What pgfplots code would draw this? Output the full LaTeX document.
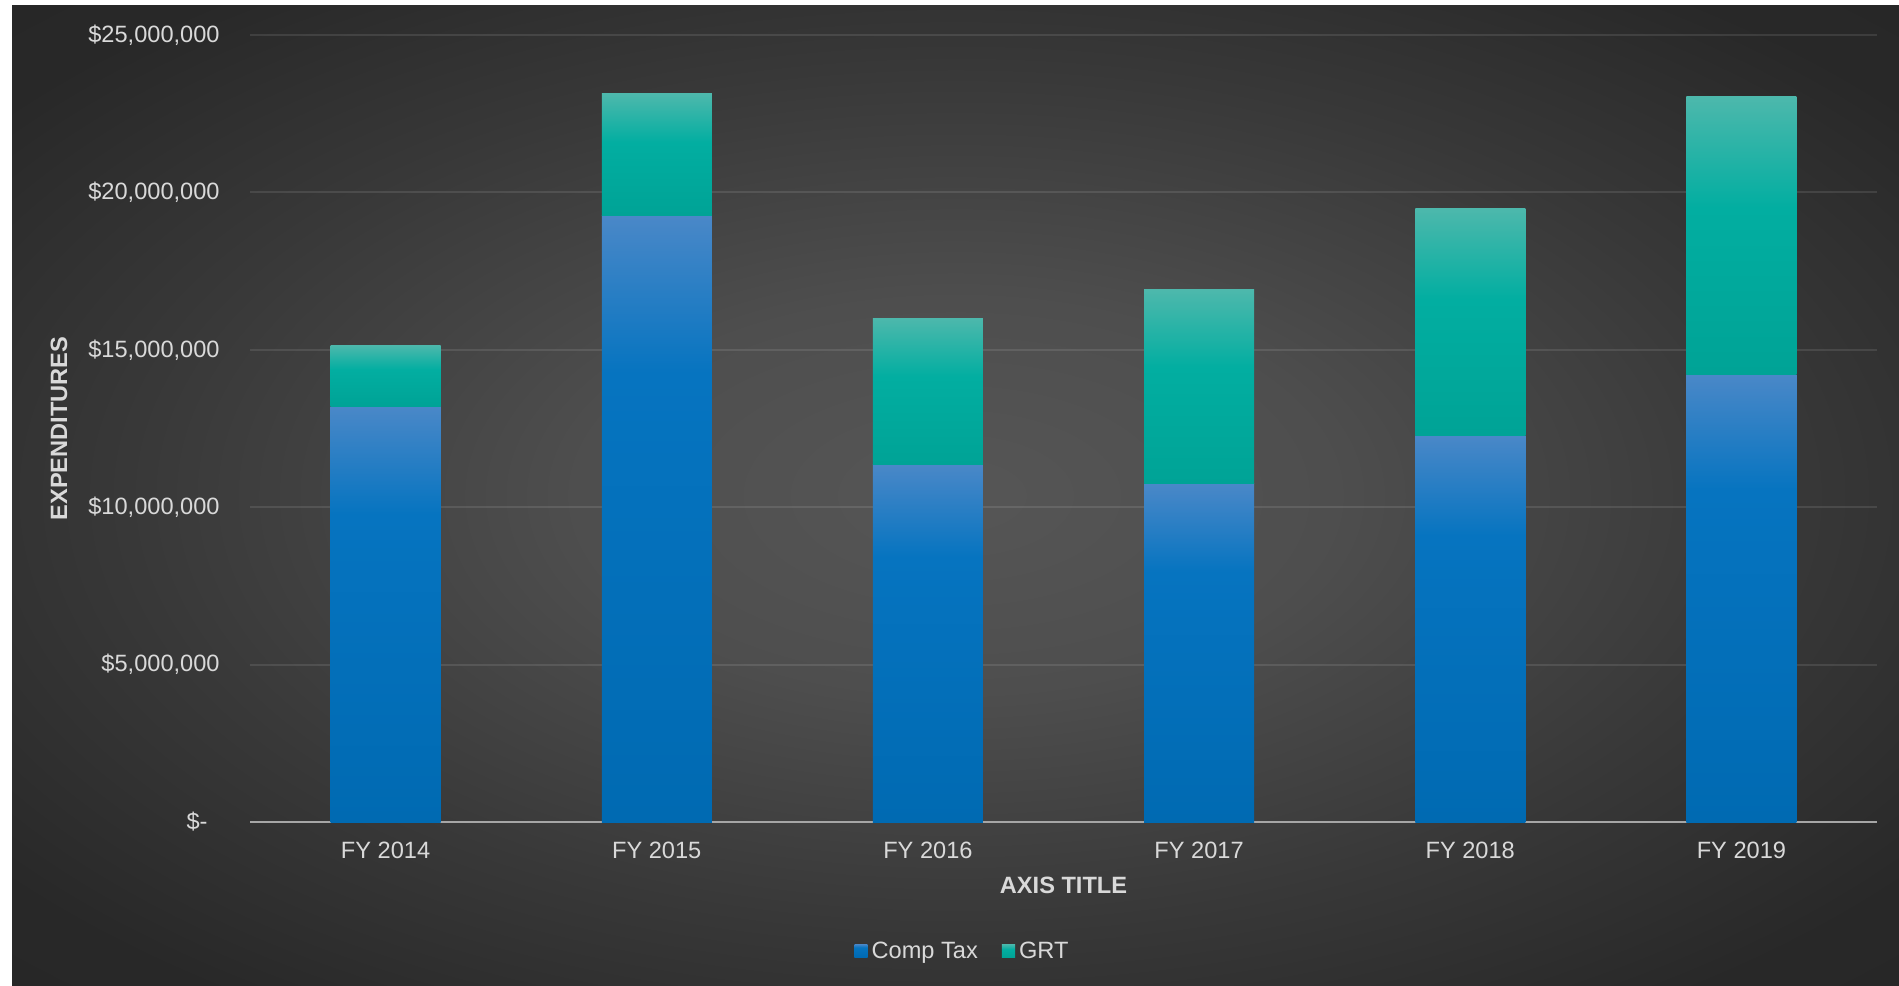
\documentclass[border=0pt]{standalone}
\usepackage{pgfplots}
\pgfplotsset{compat=1.18}
\usepackage{fontspec}
\setmainfont{Liberation Sans}
\definecolor{txt}{HTML}{D9D9D9}
\definecolor{ctTop}{HTML}{4A88C8}
\definecolor{ctMid}{HTML}{0674C0}
\definecolor{ctBot}{HTML}{006AB2}
\definecolor{grTop}{HTML}{4DB8AC}
\definecolor{grMid}{HTML}{02AEA1}
\definecolor{grBot}{HTML}{00A396}
\pgfdeclareverticalshading{ctshade}{100bp}{color(0bp)=(ctBot); color(25bp)=(ctBot); color(62bp)=(ctMid); color(75bp)=(ctTop); color(100bp)=(ctTop)}
\pgfdeclareverticalshading{grshade}{100bp}{color(0bp)=(grBot); color(25bp)=(grBot); color(55bp)=(grMid); color(75bp)=(grTop); color(100bp)=(grTop)}
\pgfdeclareradialshading{bgshade}{\pgfpoint{0bp}{0bp}}{color(0bp)=(rgb,255:red,86;green,86;blue,86); color(10bp)=(rgb,255:red,78;green,78;blue,78); color(22bp)=(rgb,255:red,56;green,56;blue,56); color(32bp)=(rgb,255:red,40;green,40;blue,40); color(50bp)=(rgb,255:red,36;green,36;blue,36)}
\newcommand{\lfont}{\fontsize{11.8pt}{14pt}\selectfont}
\pgfplotsset{
  sqlegend/.style={legend image code/.code={\fill[##1] (0pt,-2.6pt) rectangle (6.6pt,4pt);}},
  comp/.style={ybar, bar width=55pt, bar shift=0pt, draw=none, shading=ctshade, sqlegend},
  grt/.style={sharp plot, mark=none, draw=none, shading=grshade, sqlegend},
}
\begin{document}
\begin{tikzpicture}
\fill[white] (0,0) rectangle (949.5pt,492.5pt);
\shade[shading=bgshade] (6pt,0) rectangle (949.5pt,489.5pt);
\begin{axis}[
  at={(125pt,81.5pt)}, anchor=south west,
  scale only axis, width=813.5pt, height=393.5pt,
  xmin=-0.5, xmax=5.5, ymin=0, ymax=25000000,
  xtick={0,1,2,3,4,5},
  xticklabels={FY 2014,FY 2015,FY 2016,FY 2017,FY 2018,FY 2019},
  ytick={0,5000000,10000000,15000000,20000000,25000000},
  yticklabels={\$-\hspace*{6pt},{\$5,000,000},{\$10,000,000},{\$15,000,000},{\$20,000,000},{\$25,000,000}},
  scaled y ticks=false,
  major tick length=0pt,
  axis lines*=left,
  y axis line style={draw=none},
  x axis line style={draw=white!65!black, line width=1pt},
  ymajorgrids,
  grid style={draw=white, opacity=0.1, line width=1pt},
  xticklabel style={anchor=north, inner sep=0pt, yshift=-10pt, text=txt, font=\lfont},
  yticklabel style={anchor=east, inner sep=0pt, xshift=-15pt, text=txt, font=\lfont},
  xlabel={AXIS TITLE},
  ylabel={EXPENDITURES},
  xlabel style={at={(axis description cs:0.5,-0.080)}, anchor=center, text=txt, font=\lfont\bfseries},
  ylabel style={at={(axis description cs:-0.1174,0.5)}, anchor=center, rotate=0, text=txt, font=\lfont\bfseries},
  legend entries={Comp Tax,GRT},
  legend style={draw=none, fill=none, text=txt, font=\lfont,
    at={(axis description cs:0.4385,-0.1652)}, anchor=center,
    legend columns=2,
    /tikz/every even column/.append style={column sep=10pt}},
  legend cell align=left,
]
% Each fiscal year: Comp Tax bar (0 to Comp Tax), GRT segment (Comp Tax to Comp Tax + GRT).
% Bar half width 0.20283 x units = 27.5pt.
% FY 2014: Comp Tax 13,210,000; GRT 1,940,000
\addplot[comp] coordinates {(0,13210000)};
\addplot[grt] coordinates {(-0.20283,13210000) (0.20283,13210000) (0.20283,15150000) (-0.20283,15150000)} -- cycle;
% FY 2015: Comp Tax 19,280,000; GRT 3,850,000
\addplot[comp] coordinates {(1,19280000)};
\addplot[grt] coordinates {(0.79717,19280000) (1.20283,19280000) (1.20283,23130000) (0.79717,23130000)} -- cycle;
% FY 2016: Comp Tax 11,370,000; GRT 4,640,000
\addplot[comp] coordinates {(2,11370000)};
\addplot[grt] coordinates {(1.79717,11370000) (2.20283,11370000) (2.20283,16010000) (1.79717,16010000)} -- cycle;
% FY 2017: Comp Tax 10,740,000; GRT 6,160,000
\addplot[comp] coordinates {(3,10740000)};
\addplot[grt] coordinates {(2.79717,10740000) (3.20283,10740000) (3.20283,16900000) (2.79717,16900000)} -- cycle;
% FY 2018: Comp Tax 12,290,000; GRT 7,210,000
\addplot[comp] coordinates {(4,12290000)};
\addplot[grt] coordinates {(3.79717,12290000) (4.20283,12290000) (4.20283,19500000) (3.79717,19500000)} -- cycle;
% FY 2019: Comp Tax 14,230,000; GRT 8,830,000
\addplot[comp] coordinates {(5,14230000)};
\addplot[grt] coordinates {(4.79717,14230000) (5.20283,14230000) (5.20283,23060000) (4.79717,23060000)} -- cycle;
\end{axis}
\end{tikzpicture}
\end{document}
